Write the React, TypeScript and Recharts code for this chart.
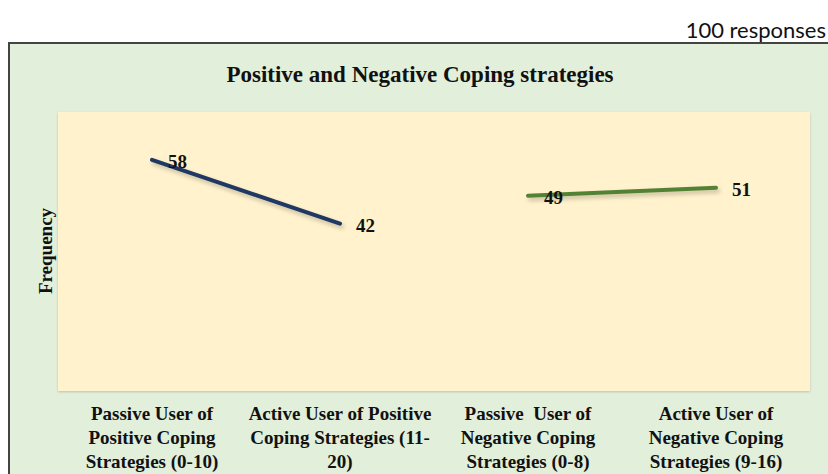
import React from "react";
import { LineChart, Line, XAxis, YAxis, CartesianGrid, LabelList } from "recharts";

const categories = ["passivePositive", "activePositive", "passiveNegative", "activeNegative"];
const tickLines = [
  ["Passive User of", "Positive Coping", "Strategies (0-10)"],
  ["Active User of Positive", "Coping Strategies (11-", "20)"],
  ["Passive  User of", "Negative Coping", "Strategies (0-8)"],
  ["Active User of", "Negative Coping", "Strategies (9-16)"],
];
const positiveValues = [58, 42, null, null];
const negativeValues = [null, null, 49, 51];

const data = categories.map((c, i) => ({
  cat: c,
  positive: positiveValues[i],
  negative: negativeValues[i],
}));

const serif = "'Liberation Serif', 'Times New Roman', serif";

const CategoryTick = (props: any) => {
  const { x, y, index } = props;
  const lines = tickLines[index] || [];
  return (
    <g>
      {lines.map((t, i) => (
        <text
          key={i}
          x={x}
          y={y + 14 + i * 24}
          textAnchor="middle"
          dominantBaseline="central"
          fontFamily={serif}
          fontWeight="bold"
          fontSize={19}
          fill="#111"
          style={{ whiteSpace: "pre" }}
        >
          {t}
        </text>
      ))}
    </g>
  );
};

const ValueLabel = (props: any) => {
  const { x, y, value } = props;
  if (value == null) return null;
  return (
    <text
      x={x + 16}
      y={y + 2}
      dominantBaseline="central"
      fontFamily={serif}
      fontWeight="bold"
      fontSize={19}
      fill="#111"
    >
      {value}
    </text>
  );
};

export default function App() {
  return (
    <div style={{ position: "absolute", left: 0, top: 0, width: 828, height: 474, overflow: "hidden", background: "#fff" }}>
      <style>{`
        .recharts-line-curve { filter: drop-shadow(2px 3px 2px rgba(0,0,0,0.22)); }
        .recharts-cartesian-grid-bg { filter: drop-shadow(0 1px 1px rgba(0,0,0,0.18)); }
      `}</style>
      <div
        style={{
          position: "absolute",
          right: 2,
          top: 17,
          fontFamily: "Lato, 'Open Sans', sans-serif",
          fontSize: 22,
          lineHeight: "26px",
          color: "#111",
        }}
      >
        100 responses
      </div>
      <div
        style={{
          position: "absolute",
          left: 8,
          top: 42,
          width: 830,
          height: 440,
          boxSizing: "border-box",
          borderLeft: "2px solid #444",
          borderTop: "2px solid #444",
          background: "#E2EFDA",
        }}
      />
      <div
        style={{
          position: "absolute",
          left: 0,
          width: 840,
          top: 61,
          textAlign: "center",
          fontFamily: serif,
          fontWeight: "bold",
          fontSize: 23,
          lineHeight: "27px",
          color: "#111",
        }}
      >
        Positive and Negative Coping strategies
      </div>
      <div
        style={{
          position: "absolute",
          left: 46,
          top: 251,
          transform: "translate(-50%, -50%) rotate(-90deg)",
          fontFamily: serif,
          fontWeight: "bold",
          fontSize: 19,
          color: "#111",
          whiteSpace: "nowrap",
        }}
      >
        Frequency
      </div>
      <div style={{ position: "absolute", left: 8, top: 42 }}>
        <LineChart
          width={820}
          height={432}
          data={data}
          margin={{ top: 70, right: 18, left: 50, bottom: 3 }}
        >
          <CartesianGrid horizontal={false} vertical={false} fill="#FFF2CC" stroke="none" />
          <XAxis
            dataKey="cat"
            axisLine={false}
            tickLine={false}
            interval={0}
            height={80}
            padding={{ left: 94, right: 94 }}
            tick={<CategoryTick />}
          />
          <YAxis hide domain={[0, 70]} />
          <Line
            dataKey="positive"
            stroke="#203864"
            strokeWidth={4}
            strokeLinecap="round"
            dot={false}
            isAnimationActive={false}
          >
            <LabelList dataKey="positive" content={<ValueLabel />} />
          </Line>
          <Line
            dataKey="negative"
            stroke="#548235"
            strokeWidth={4}
            strokeLinecap="round"
            dot={false}
            isAnimationActive={false}
          >
            <LabelList dataKey="negative" content={<ValueLabel />} />
          </Line>
        </LineChart>
      </div>
    </div>
  );
}
